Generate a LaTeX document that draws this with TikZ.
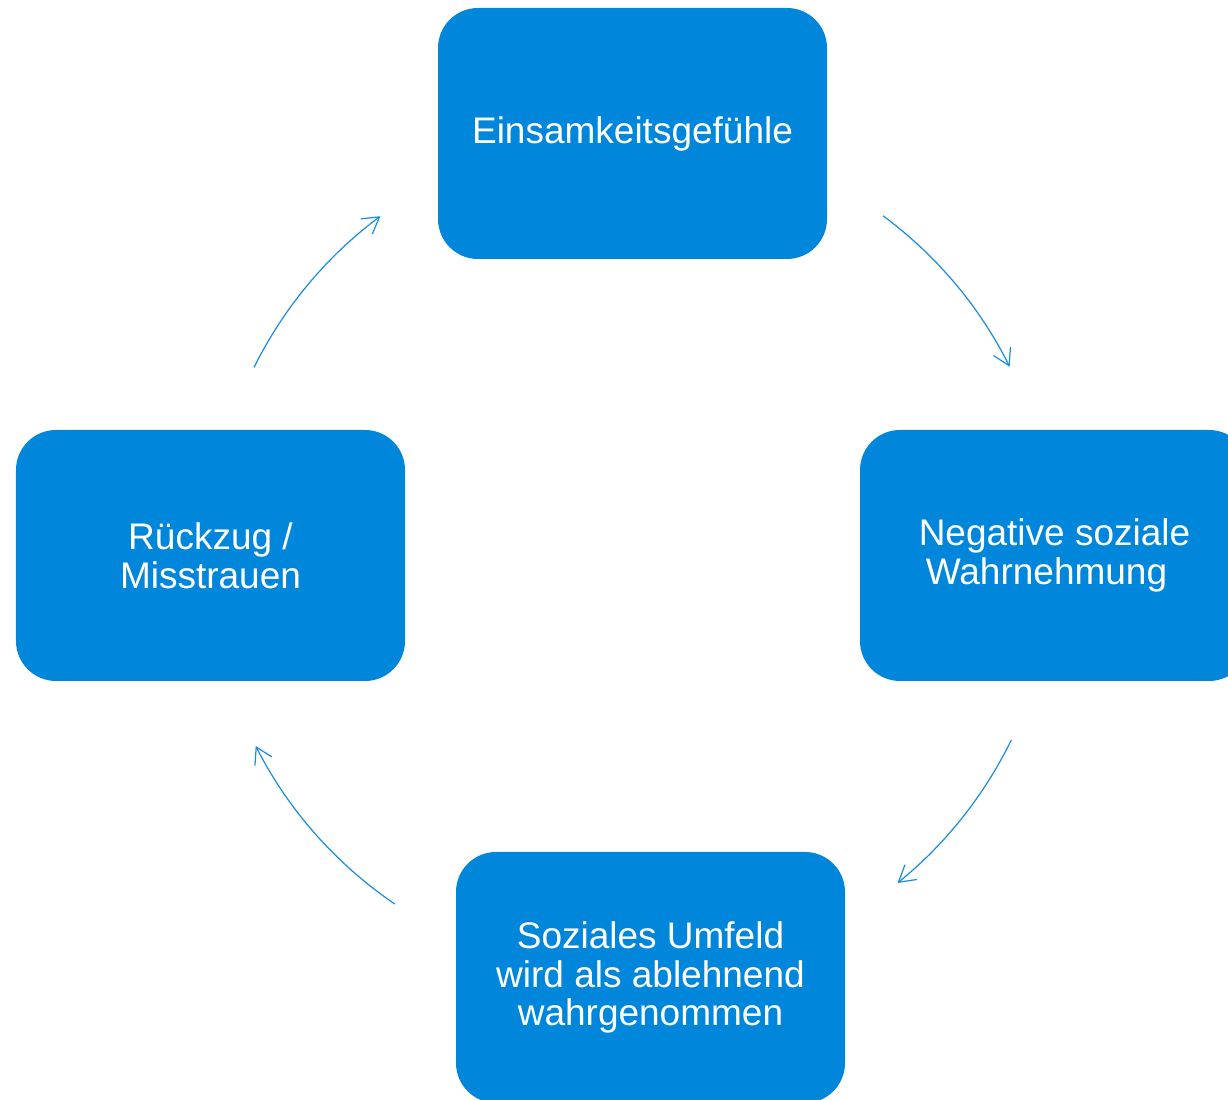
\documentclass[tikz,border=0pt]{standalone}
\usepackage{fontspec}
\setmainfont{Liberation Sans}
\usepackage{xcolor}
\usetikzlibrary{arrows.meta,calc}

\definecolor{boxblue}{RGB}{0,135,220}
\definecolor{arrowblue}{RGB}{25,140,222}

\begin{document}
\begin{tikzpicture}[x=1bp, y=1bp,
    box/.style={rectangle, rounded corners=40bp, fill=boxblue, text=white,
        minimum width=389bp, minimum height=251bp, align=center,
        font=\fontsize{37bp}{38.7bp}\selectfont},
    cyc/.style={draw=arrowblue, line width=1.2bp,
        -{Straight Barb[length=16bp, width=19bp]}}]
    \useasboundingbox (0,0) rectangle (1228,1100);

    % Boxes of the cycle
    \node[box] (eins) at (632.5,966.5) {Einsamkeitsgefühle};
    \node[box] (neg) at (1054.5,544.5) {Negative soziale\\Wahrnehmung\hspace*{16bp}};
    \node[box] (umf) at (650.5,122.5) {Soziales Umfeld\\wird als ablehnend\\wahrgenommen};
    \node[box] (rueck) at (210.5,544.5) {Rückzug /\\Misstrauen};

    % Arcs around the centre
    \coordinate (c) at (632,545);
    \coordinate (a1) at ($(c)+(53.5:422bp)$);
    \coordinate (a2) at ($(c)+(-26:422bp)$);
    \coordinate (a3) at ($(c)+(235.8:422bp)$);
    \coordinate (a4) at ($(c)+(153.6:422bp)$);

    \draw[cyc] (a1) arc[start angle=53.5, end angle=26.5, radius=422bp];
    \draw[cyc] (a2) arc[start angle=-26, end angle=-51, radius=422bp];
    \draw[cyc] (a3) arc[start angle=235.8, end angle=206.9, radius=422bp];
    \draw[cyc] (a4) arc[start angle=153.6, end angle=126.6, radius=422bp];
\end{tikzpicture}
\end{document}
